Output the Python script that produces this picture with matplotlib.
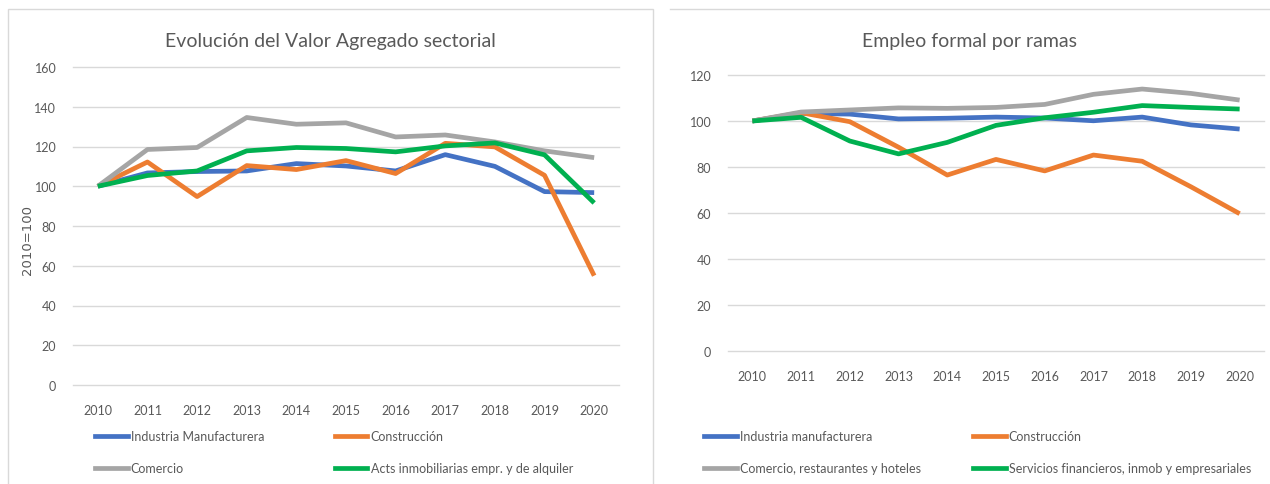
import matplotlib.pyplot as plt
from matplotlib.lines import Line2D

# data
years = ["2010", "2011", "2012", "2013", "2014", "2015", "2016", "2017", "2018", "2019", "2020"]

va_industria = [100, 106.7, 107.4, 107.7, 111.4, 110.2, 107.7, 115.9, 110.0, 97.3, 96.8]
va_construccion = [100, 112.2, 94.8, 110.4, 108.4, 112.9, 106.4, 121.6, 119.8, 105.5, 55.0]
va_comercio = [100, 118.5, 119.5, 134.6, 131.2, 131.9, 124.8, 125.8, 122.3, 117.8, 114.4]
va_inmob = [100, 105.4, 107.7, 117.8, 119.5, 119.0, 117.3, 120.3, 121.8, 115.8, 91.6]

emp_industria = [100, 103.3, 103.0, 100.9, 101.2, 101.7, 101.3, 100.1, 101.7, 98.3, 96.5]
emp_construccion = [100, 103.6, 99.7, 88.6, 76.5, 83.3, 78.3, 85.2, 82.5, 71.4, 59.7]
emp_comercio = [100, 103.9, 104.8, 105.7, 105.5, 105.9, 107.2, 111.6, 113.9, 112.0, 109.1]
emp_financ = [100, 101.6, 91.3, 85.7, 90.7, 98.1, 101.4, 103.8, 106.7, 105.9, 105.2]

labels_va = ["Industria Manufacturera", "Construcción", "Comercio",
             "Acts inmobiliarias empr. y de alquiler"]
labels_emp = ["Industria manufacturera", "Construcción", "Comercio, restaurantes y hoteles",
              "Servicios financieros, inmob y empresariales"]

colors = ["#4472C4", "#ED7D31", "#A5A5A5", "#00B050"]
txt = "#595959"
grid = "#D9D9D9"

plt.rcParams['font.family'] = ['Lato', 'DejaVu Sans']

W, H = 1270, 485


def fx(px):
    return px / W


def fy(py):
    return 1 - py / H


def draw(ax, series, ymax):
    x = range(len(years))
    for s, c in zip(series, colors):
        ax.plot(x, s, '-', color=c, lw=3.4, solid_capstyle='butt')
    ax.set_xlim(-0.5, len(years) - 0.5)
    ax.set_ylim(0, ymax)
    ax.set_yticks(range(0, ymax + 1, 20))
    ax.set_xticks(list(x))
    ax.set_xticklabels(years)
    ax.grid(axis='y', color=grid, lw=1)
    for gl in ax.get_ygridlines():
        gl.set_clip_on(False)
    ax.set_axisbelow(True)
    for sp in ax.spines.values():
        sp.set_visible(False)
    ax.tick_params(length=0, colors=txt, labelsize=9)
    ax.tick_params(axis='y', pad=12)
    ax.tick_params(axis='x', pad=14)


def legend(fig, labels, x1, x2, y):
    for i, xs in enumerate([x1, x2]):
        idx = [i, i + 2]
        hs = [Line2D([], [], color=colors[k], lw=3.4) for k in idx]
        fig.legend(hs, [labels[k] for k in idx], loc='upper left',
                   bbox_to_anchor=(fx(xs), fy(y)), frameon=False,
                   borderpad=0, borderaxespad=0, handlelength=2.6,
                   handletextpad=0.25, labelspacing=1.6,
                   fontsize=9, labelcolor=txt)


def main():
    fig = plt.figure(figsize=(12.7, 4.85), dpi=100)

    # panel frames
    fig.add_artist(plt.Rectangle((fx(8), fy(490)), fx(653 - 8), fy(10) - fy(490),
                                 fill=False, ec="#D9D9D9", lw=1, transform=fig.transFigure))
    fig.add_artist(Line2D([fx(670), 1], [fy(10), fy(10)], color="#D9D9D9", lw=1,
                          transform=fig.transFigure))

    ax1 = fig.add_axes([fx(73), fy(386), fx(619 - 73), fy(68) - fy(386)])
    draw(ax1, [va_industria, va_construccion, va_comercio, va_inmob], 160)
    fig.text(fx(330), fy(42), "Evolución del Valor Agregado sectorial",
             ha='center', va='center', fontsize=14, color=txt)
    fig.text(fx(27), fy(240), "2010=100", rotation=90, ha='center', va='center',
             fontsize=9.5, color=txt, family='DejaVu Sans')
    legend(fig, labels_va, 95, 335, 431)

    ax2 = fig.add_axes([fx(728), fy(352), fx(1264 - 728), fy(76) - fy(352)])
    draw(ax2, [emp_industria, emp_construccion, emp_comercio, emp_financ], 120)
    fig.text(fx(970), fy(42), "Empleo formal por ramas",
             ha='center', va='center', fontsize=14, color=txt)
    legend(fig, labels_emp, 704, 973, 431)

    fig.savefig("out.png", dpi=100)


if __name__ == '__main__':
    main()
